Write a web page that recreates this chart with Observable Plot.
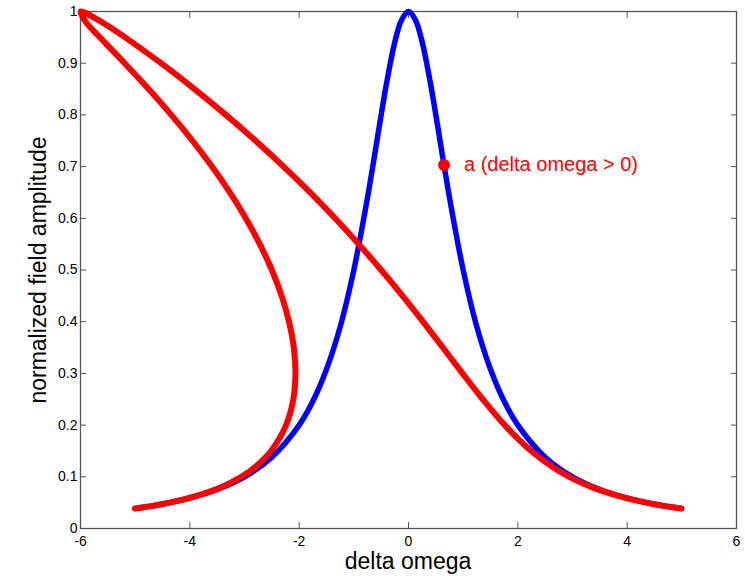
<!DOCTYPE html>
<html>
<head>
<meta charset="utf-8">
<script src="https://cdn.jsdelivr.net/npm/d3@7"></script>
<script src="https://cdn.jsdelivr.net/npm/@observablehq/plot@0.6"></script>
<style>
  html, body { margin: 0; padding: 0; background: #fff; }
  #chart { width: 745px; height: 576px; }
  svg { font-family: "Liberation Sans", Arial, Helvetica, sans-serif; }
</style>
</head>
<body>
<div id="chart"></div>
<script>
// Blue curve (linear response)
const blueX = [-5, -4.5, -4, -3.5, -3, -2.5, -2, -1.75, -1.5, -1.25, -1, -0.75, -0.6, -0.5, -0.4, -0.25, -0.125, 0,
               0.125, 0.25, 0.4, 0.5, 0.6, 0.75, 1, 1.25, 1.5, 1.75, 2, 2.5, 3, 3.5, 4, 4.5, 5];
const blueY = [0.0385, 0.047, 0.0588, 0.0755, 0.1, 0.138, 0.2, 0.246, 0.308, 0.39, 0.5, 0.64, 0.735, 0.8, 0.862, 0.941, 0.984, 1,
               0.984, 0.941, 0.862, 0.8, 0.735, 0.64, 0.5, 0.39, 0.308, 0.246, 0.2, 0.138, 0.1, 0.0755, 0.0588, 0.047, 0.0385];

// Red curve (bistable response), in drawing order
const redX = [-5.006, -4.909, -4.374, -3.980, -3.430, -3.06, -2.794, -2.515, -2.24, -2.107, -2.068, -2.098, -2.185, -2.321,
              -2.5, -2.720, -2.977, -3.269, -3.595, -3.952, -4.34, -4.755, -5.193, -5.644, -5.905, -6,
              -5.619, -5.186, -4.527, -3.915, -3.34, -2.798, -2.285, -1.801, -1.344, -0.910, -0.5, -0.109,
              0.265, 0.628, 0.988, 1.357, 1.76, 2.245, 2.622, 2.94, 3.353, 3.936, 4.344, 4.889, 4.988];
const redY = [0.0385, 0.04, 0.05, 0.06, 0.08, 0.1, 0.12, 0.15, 0.2, 0.25, 0.3, 0.35, 0.4, 0.45,
              0.5, 0.55, 0.6, 0.65, 0.7, 0.75, 0.8, 0.85, 0.9, 0.95, 0.98, 1,
              0.98, 0.95, 0.9, 0.85, 0.8, 0.75, 0.7, 0.65, 0.6, 0.55, 0.5, 0.45,
              0.4, 0.35, 0.3, 0.25, 0.2, 0.15, 0.12, 0.1, 0.08, 0.06, 0.05, 0.04, 0.0385];

// Marked point and annotation
const pointX = [0.65];
const pointY = [0.703];
const pointLabel = ["a (delta omega > 0)"];

// Tick labels
const xTicks = [-6, -4, -2, 0, 2, 4, 6];
const yTicks = [0, 0.1, 0.2, 0.3, 0.4, 0.5, 0.6, 0.7, 0.8, 0.9, 1];

const blue = blueX.map((x, i) => ({x, y: blueY[i]}));
const red = redX.map((x, i) => ({x, y: redY[i]}));
const pts = pointX.map((x, i) => ({x, y: pointY[i], label: pointLabel[i]}));

const axisColor = "#555";

const chart = Plot.plot({
  width: 745,
  height: 576,
  marginLeft: 80,
  marginRight: 9,
  marginTop: 11,
  marginBottom: 48,
  style: {fontFamily: '"Liberation Sans", Arial, Helvetica, sans-serif', background: "#fff", color: "#000"},
  x: {domain: [-6, 6]},
  y: {domain: [0, 1]},
  marks: [
    Plot.frame({stroke: axisColor, strokeWidth: 1.3}),
    Plot.axisX({ticks: xTicks, tickSize: -6, tickFormat: d => String(d), fontSize: 14, stroke: axisColor, tickPadding: 14, label: null}),
    Plot.axisX({anchor: "top", ticks: xTicks, tickSize: -6, tickFormat: () => "", stroke: axisColor, label: null}),
    Plot.axisY({ticks: yTicks, tickSize: -6, tickFormat: d => String(d), fontSize: 14, stroke: axisColor, tickPadding: 9, label: null}),
    Plot.axisY({anchor: "right", ticks: yTicks, tickSize: -6, tickFormat: () => "", stroke: axisColor, label: null}),
    Plot.line(blue, {x: "x", y: "y", stroke: "#0000ff", strokeWidth: 5.5, curve: "catmull-rom"}),
    Plot.line(red, {x: "x", y: "y", stroke: "#ff0000", strokeWidth: 6, curve: "catmull-rom"}),
    Plot.dot(pts, {x: "x", y: "y", r: 6, fill: "#ff0000", stroke: "none"}),
    Plot.text(pts, {x: "x", y: "y", text: "label", dx: 20, textAnchor: "start", fill: "#ff0000", fontSize: 20})
  ]
});

// axis titles as real text
const svg = d3.select(chart);
svg.append("text")
  .attr("x", 408).attr("y", 569)
  .attr("text-anchor", "middle")
  .attr("font-size", 23)
  .attr("fill", "#000")
  .text("delta omega");
svg.append("text")
  .attr("transform", "translate(46,270) rotate(-90)")
  .attr("text-anchor", "middle")
  .attr("font-size", 23)
  .attr("fill", "#000")
  .text("normalized field amplitude");

document.getElementById("chart").appendChild(chart);
</script>
</body>
</html>
